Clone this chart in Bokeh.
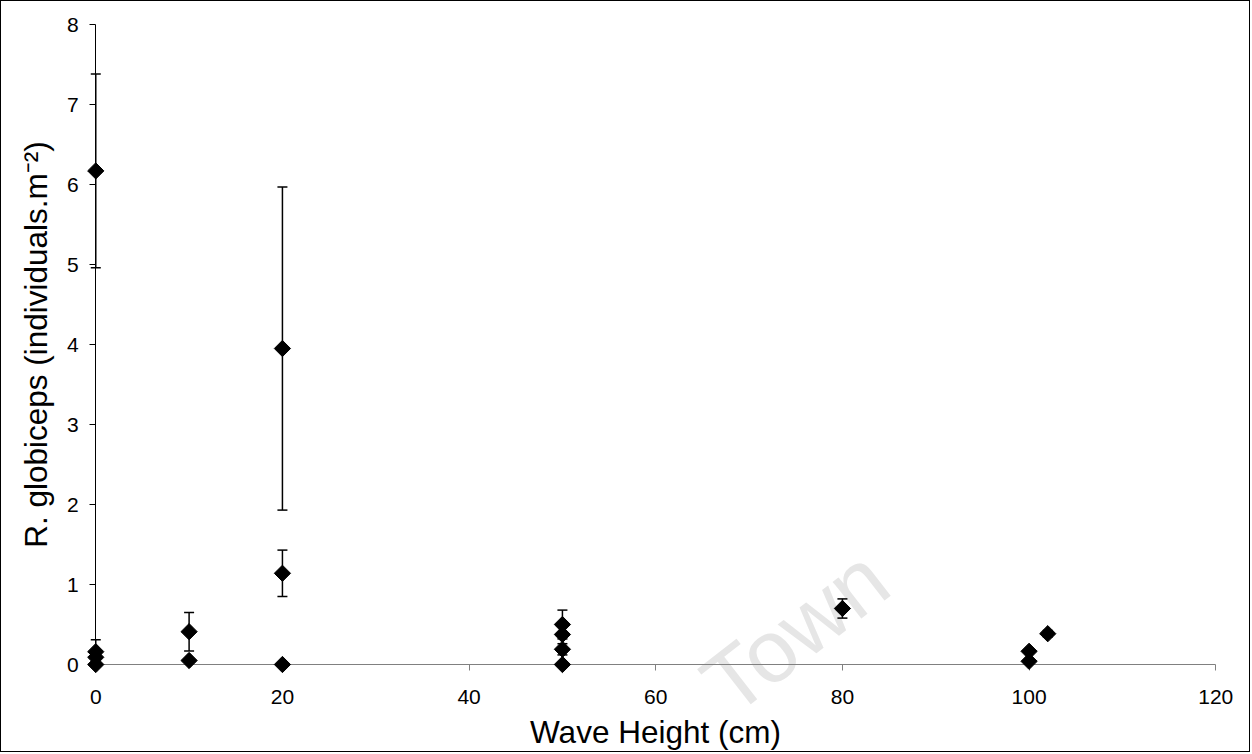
import math
from bokeh.plotting import figure
from bokeh.models import ColumnDataSource, Whisker, TeeHead, FixedTicker, Range1d, Label
from bokeh.embed import file_html
from bokeh.resources import INLINE

# ---- data ----
WAVE_HEIGHT = [0, 0, 0, 0, 10, 10, 20, 20, 20, 50, 50, 50, 50, 80, 100, 100, 102]
DENSITY = [6.17, 0.16, 0.09, 0.0, 0.41, 0.05, 3.95, 1.14, 0.0, 0.50, 0.375, 0.19, 0.0, 0.70, 0.165, 0.04, 0.385]
ERROR = [1.21, 0.15, 0.0, 0.0, 0.24, 0.0, 2.02, 0.29, 0.0, 0.18, 0.0, 0.07, 0.0, 0.12, 0.0, 0.0, 0.04]

X_TICKS = [0, 20, 40, 60, 80, 100, 120]
Y_TICKS = [0, 1, 2, 3, 4, 5, 6, 7, 8]
X_LABEL = "Wave Height (cm)"
Y_LABEL = "R. globiceps (individuals.m\u207b\u00b2)"
WATERMARK = "Town"

FONT = "Liberation Sans"

src = ColumnDataSource(dict(
    x=WAVE_HEIGHT,
    y=DENSITY,
    lo=[v - e for v, e in zip(DENSITY, ERROR)],
    hi=[v + e for v, e in zip(DENSITY, ERROR)],
))

p = figure(width=1250, height=752, output_backend="svg", toolbar_location=None,
           x_range=Range1d(-10.10, 123.83), y_range=Range1d(-1.1125, 8.2875),
           min_border=0)
p.styles = {"border": "1px solid black"}
p.outline_line_color = None
p.grid.visible = False
p.background_fill_color = "white"
p.border_fill_color = "white"

for ax in (p.xaxis[0], p.yaxis[0]):
    ax.minor_tick_line_color = None
    ax.major_tick_in = 0
    ax.major_tick_out = 6
    ax.axis_line_width = 1
    ax.major_tick_line_width = 1
    ax.major_label_text_font = FONT
    ax.major_label_text_font_size = "21px"
    ax.major_label_text_color = "black"
    ax.axis_label_text_font = FONT
    ax.axis_label_text_font_size = "31.5px"
    ax.axis_label_text_font_style = "normal"
    ax.axis_label_text_color = "black"

p.xaxis.axis_line_color = "#808080"
p.xaxis.major_tick_line_color = "#808080"
p.yaxis.axis_line_color = "black"
p.yaxis.major_tick_line_color = "black"

p.xaxis.ticker = FixedTicker(ticks=X_TICKS)
p.yaxis.ticker = FixedTicker(ticks=Y_TICKS)
p.xaxis.bounds = (X_TICKS[0], X_TICKS[-1])
p.yaxis.bounds = (Y_TICKS[0], Y_TICKS[-1])
p.xaxis.fixed_location = Y_TICKS[0]
p.yaxis.fixed_location = X_TICKS[0]
p.xaxis.axis_label = X_LABEL
p.yaxis.axis_label = Y_LABEL
p.xaxis.major_label_standoff = 19
p.yaxis.major_label_standoff = 11
p.xaxis.axis_label_standoff = 7
p.yaxis.axis_label_standoff = 10

# faint watermark
wm = Label(x=69.5, y=-0.86, text=WATERMARK, angle=0.66, text_color="#e6e6e6",
           text_font=FONT, text_font_size="88px", level="underlay")
p.add_layout(wm)

# error bars
w = Whisker(base="x", lower="lo", upper="hi", source=src, dimension="height",
            line_color="black", line_width=1.5,
            upper_head=TeeHead(size=10, line_color="black", line_width=1.5),
            lower_head=TeeHead(size=10, line_color="black", line_width=1.5))
p.add_layout(w)

# diamond markers
r = p.scatter(x="x", y="y", source=src, marker="square", angle=math.pi / 4, size=11.5,
              fill_color="black", line_color="black")
r.level = "overlay"

open("out.html", "w").write(file_html(p, INLINE))
